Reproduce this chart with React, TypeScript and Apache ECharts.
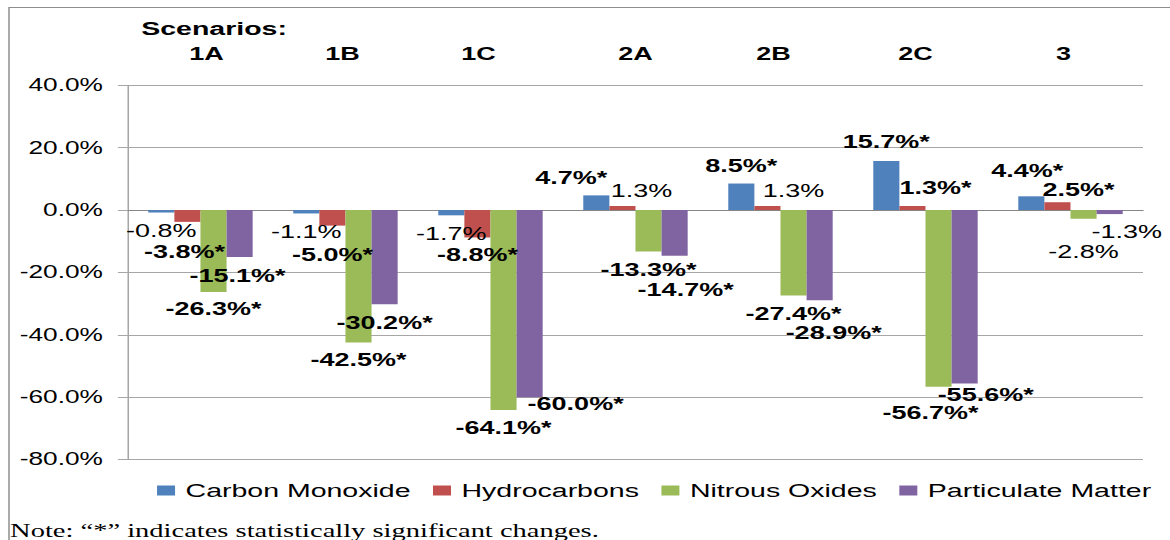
import React, { useEffect, useRef } from "react";
import * as echarts from "echarts";

// Horizontal stretch of the original picture
const STRETCH = 1.5;

const scenarios = ["1A", "1B", "1C", "2A", "2B", "2C", "3"];
const seriesNames = ["Carbon Monoxide", "Hydrocarbons", "Nitrous Oxides", "Particulate Matter"];

const carbonMonoxide = [-0.8, -1.1, -1.7, 4.7, 8.5, 15.7, 4.4];
const hydrocarbons = [-3.8, -5.0, -8.8, 1.3, 1.3, 1.3, 2.5];
const nitrousOxides = [-26.3, -42.5, -64.1, -13.3, -27.4, -56.7, -2.8];
const particulateMatter = [-15.1, -30.2, -60.0, -14.7, -28.9, -55.6, -1.3];

const coSignificant = [false, false, false, true, true, true, true];
const hcSignificant = [true, true, true, false, false, true, true];
const noxSignificant = [true, true, true, true, true, true, false];
const pmSignificant = [true, true, true, true, true, true, false];

const yMin = -80;
const yMax = 40;
const yStep = 20;

const colors = ["#4F81BD", "#C0504D", "#9BBB59", "#8064A2"];

// manual label nudges as in the original (screen px: dx, dy)
const coNudge = [[0, 0], [0, 0], [0, 0], [-25, 0], [0, 0], [0, -1], [-4, -8]];
const hcNudge = [[-3, 12], [0, 11], [0, -1], [19, 3], [26, 3], [23, 0], [21, 5]];
const noxNudge = [[0, -1], [0, -1], [0, 0], [0, 0], [0, 0], [-8, 8], [0, 15]];
const pmNudge = [[-2, 1], [0, 1], [46, -11], [11, 16], [14, 15], [21, -7], [17, 0]];
// horizontal shift of the scenario headings (screen px)
const headingShift = [6, -3, -12, 0, -7, -10, -7];

const FONT = "'Liberation Sans', Arial, sans-serif";

function buildSeries(
  name: string,
  values: number[],
  sig: boolean[],
  nudge: number[][],
  color: string
) {
  return {
    name,
    type: "bar",
    xAxisIndex: 0,
    barGap: "0%",
    barCategoryGap: "28%",
    itemStyle: { color },
    data: values.map((v, i) => ({
      value: v,
      label: {
        show: true,
        position: v < 0 ? "bottom" : "top",
        distance: 9,
        offset: [nudge[i][0] / STRETCH, nudge[i][1]],
        formatter: v.toFixed(1) + "%" + (sig[i] ? "*" : ""),
        fontWeight: sig[i] ? "bold" : "normal",
        fontSize: 18,
        lineHeight: 18,
        fontFamily: FONT,
        color: "#000",
      },
    })),
  };
}

export default function App() {
  const ref = useRef<HTMLDivElement>(null);

  useEffect(() => {
    if (!ref.current) return;
    const chart = echarts.init(ref.current, undefined, { renderer: "svg" });
    const headingData = scenarios.map((s, i) => {
      const sh = (headingShift[i] / STRETCH) * 2;
      return {
        value: s,
        textStyle: { padding: sh >= 0 ? [0, 0, 0, sh] : [0, -sh, 0, 0] },
      };
    });
    chart.setOption({
      animation: false,
      color: colors,
      grid: { left: 85.3, right: 18, top: 85.3, bottom: 80.5, containLabel: false },
      legend: {
        data: seriesNames,
        left: 104.7,
        top: 481,
        padding: 0,
        icon: "rect",
        itemWidth: 12,
        itemHeight: 10,
        itemGap: 15,
        textStyle: { fontSize: 19, fontFamily: FONT, color: "#000", padding: [0, 0, 0, 2] },
      },
      xAxis: [
        {
          type: "category",
          data: scenarios,
          position: "bottom",
          axisLine: { show: true, onZero: true, lineStyle: { color: "#868686", width: 1 } },
          axisTick: { show: false },
          axisLabel: { show: false },
          splitLine: { show: false },
        },
        {
          type: "category",
          data: headingData,
          position: "top",
          axisLine: { show: false },
          axisTick: { show: false },
          axisLabel: {
            show: true,
            margin: 23,
            fontSize: 18,
            fontWeight: "bold",
            fontFamily: FONT,
            color: "#000",
          },
          splitLine: { show: false },
        },
      ],
      yAxis: {
        type: "value",
        min: yMin,
        max: yMax,
        interval: yStep,
        axisLine: { show: true, lineStyle: { color: "#A6A6A6", width: 1 } },
        axisTick: { show: true, length: 6.7, inside: false, lineStyle: { color: "#A6A6A6" } },
        axisLabel: {
          margin: 16.7,
          fontSize: 17.5,
          fontFamily: FONT,
          color: "#000",
          padding: [4, 0, 0, 0],
          formatter: (v: number) => v.toFixed(1) + "%",
        },
        splitLine: { show: true, lineStyle: { color: "#A6A6A6", width: 1 } },
      },
      series: [
        buildSeries(seriesNames[0], carbonMonoxide, coSignificant, coNudge, colors[0]),
        buildSeries(seriesNames[1], hydrocarbons, hcSignificant, hcNudge, colors[1]),
        buildSeries(seriesNames[2], nitrousOxides, noxSignificant, noxNudge, colors[2]),
        buildSeries(seriesNames[3], particulateMatter, pmSignificant, pmNudge, colors[3]),
      ],
      graphic: [
        {
          type: "rect",
          silent: true,
          shape: { x: 6, y: 7.5, width: 900, height: 600 },
          style: { fill: "none", stroke: "#8E8E8E", lineWidth: 1 },
        },
        {
          type: "text",
          silent: true,
          x: 142.7,
          y: 28,
          style: {
            text: "Scenarios:",
            fontSize: 19,
            fontWeight: "bold",
            fontFamily: FONT,
            fill: "#000",
            align: "center",
            verticalAlign: "middle",
          },
        },
        {
          type: "text",
          silent: true,
          x: 6.7,
          y: 530,
          style: {
            text: "Note: \u201C*\u201D indicates statistically significant changes.",
            fontSize: 19,
            fontFamily: "'Liberation Serif', 'Times New Roman', serif",
            fill: "#000",
            align: "left",
            verticalAlign: "middle",
          },
        },
      ],
    });
    return () => chart.dispose();
  }, []);

  return (
    <div
      style={{
        position: "absolute",
        left: 0,
        top: 0,
        width: 1170,
        height: 540,
        overflow: "hidden",
      }}
    >
      <div
        ref={ref}
        style={{
          width: 1170 / STRETCH,
          height: 540,
          transform: `scaleX(${STRETCH})`,
          transformOrigin: "0 0",
        }}
      />
    </div>
  );
}
